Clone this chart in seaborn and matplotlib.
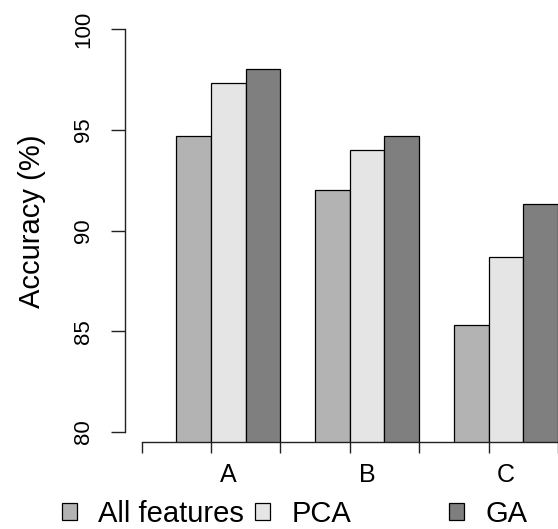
#!/usr/bin/env python3

import matplotlib
matplotlib.use('Agg')
import matplotlib.pyplot as plt
from matplotlib.patches import Patch
import pandas as pd
import seaborn as sns

datasets = ['A', 'B', 'C']
methods = ['All features', 'PCA', 'GA']
all_features = [94.67, 92.0, 85.33]
pca = [97.33, 94.0, 88.67]
ga = [98.0, 94.67, 91.33]
colors = ['#b3b3b3', '#e5e5e5', '#7f7f7f']
y_ticks = [80, 85, 90, 95, 100]

W, H = 558, 529


def main():
    sns.set_style('white')
    plt.rcParams['font.family'] = ['Liberation Sans', 'DejaVu Sans']
    plt.rcParams['text.color'] = 'black'
    plt.rcParams['axes.labelcolor'] = 'black'
    plt.rcParams['xtick.labelcolor'] = 'black'
    plt.rcParams['ytick.labelcolor'] = 'black'

    data = pd.DataFrame({
        'dataset': datasets * 3,
        'method': [m for m in methods for _ in datasets],
        'acc': all_features + pca + ga,
    })

    fig = plt.figure(figsize=(W / 100, H / 100), dpi=100)
    ax = fig.add_axes([125 / W, 1 - 442 / H, 433 / W, 413 / H])

    palette = dict(zip(methods, colors))
    sns.barplot(data=data, x='dataset', y='acc', hue='method', order=datasets,
                hue_order=methods, palette=palette, saturation=1, width=0.75,
                edgecolor='black', linewidth=0.9, legend=False, ax=ax)

    # keep the R-like look: bars start at 80, axes drawn apart from the data
    ax.set_ylim(79.504, 100)
    ax.set_xlim(-0.744, 2.323)
    for s in ['top', 'right']:
        ax.spines[s].set_visible(False)
    ax.spines['left'].set_bounds(80, 100)
    ax.spines['bottom'].set_bounds(-0.625, 2.6)
    for s in ['left', 'bottom']:
        ax.spines[s].set_color('#222222')
        ax.spines[s].set_linewidth(1.0)

    ax.set_yticks(y_ticks)
    ax.set_yticklabels([str(t) for t in y_ticks], rotation=90, va='center')
    ax.tick_params(axis='y', length=10, width=1.0, color='#222222', pad=12,
                   labelsize=16, left=True)

    ax.set_xticks([0, 1, 2])
    ax.set_xticklabels(datasets)
    ax.tick_params(axis='x', length=0, pad=15, labelsize=18)
    ax.set_xticks([-0.625, -0.125, 0.375, 0.875, 1.375, 1.875, 2.375], minor=True)
    ax.tick_params(axis='x', which='minor', length=8, width=1.0, color='#222222', bottom=True)

    ax.set_xlabel('')
    ax.set_ylabel('Accuracy (%)', fontsize=21)
    ax.yaxis.set_label_coords(-0.182, 0.534)

    # one legend entry per slot so the columns sit evenly spaced, as in the original
    handles = [Patch(facecolor=c, edgecolor='black', linewidth=0.9) for c in colors]
    slots = [62, 255, 449]
    for h, lab, x in zip(handles, methods, slots):
        fig.legend([h], [lab], loc='center left', bbox_to_anchor=(x / W, 1 - 514 / H),
                   frameon=False, fontsize=21, handlelength=0.52, handleheight=0.52,
                   handletextpad=0.72, borderpad=0, borderaxespad=0)

    fig.savefig('out.png', dpi=100)


if __name__ == "__main__":
    main()
